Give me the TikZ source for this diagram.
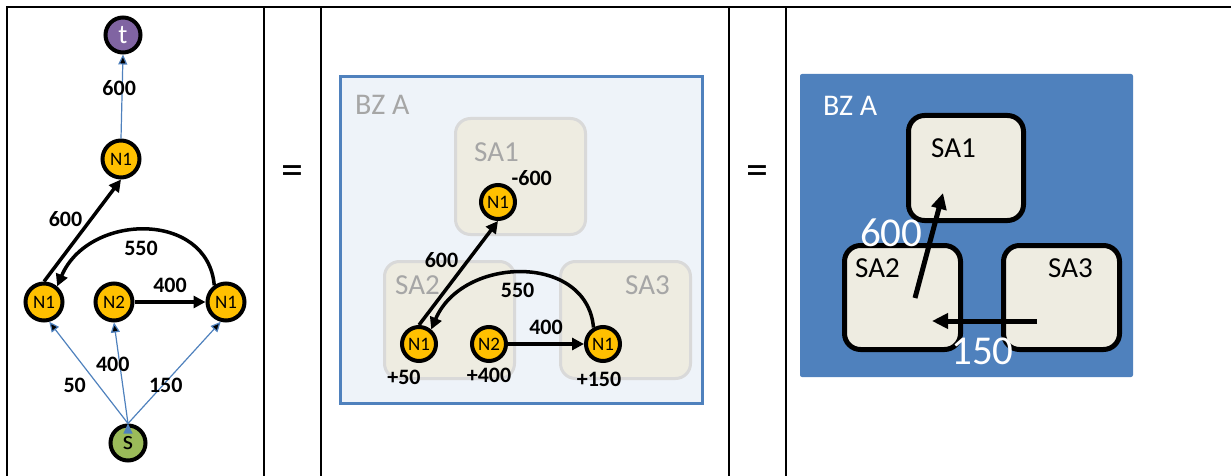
\documentclass[tikz,border=0pt]{standalone}
\usepackage{fontspec}
\setmainfont{Carlito}
\usetikzlibrary{arrows.meta,positioning,shapes.geometric}
\definecolor{nodeyellow}{HTML}{FFC000}
\definecolor{tpurple}{HTML}{8064A2}
\definecolor{sgreen}{HTML}{9BBB59}
\definecolor{flowblue}{HTML}{4F81BD}
\definecolor{areafill}{HTML}{EEECE1}
\definecolor{areagray}{HTML}{D9D9D9}
\definecolor{textgray}{HTML}{A6A6A6}
\definecolor{zonefill}{HTML}{EEF3F9}

\begin{document}
\begin{tikzpicture}[x=1pt, y=1pt,
    flow/.style={line width=3.5pt, -{Triangle[length=12pt,width=12pt]}},
    bigflow/.style={line width=5pt, -{Triangle[length=16pt,width=15pt]}},
    thinflow/.style={draw=flowblue, line width=1.2pt, -{Triangle[length=10pt,width=9pt]}},
    netnode/.style={circle, draw, line width=4pt, fill=nodeyellow, inner sep=0pt,
      minimum size=37pt, font=\fontsize{19}{22}\selectfont},
    endnode/.style={netnode, minimum size=35pt, font=\fontsize{27}{29}\selectfont},
    lbl/.style={font=\fontsize{22}{24}\selectfont\bfseries, inner sep=1pt},
    numtxt/.style={font=\fontsize{41}{44}\selectfont, text=white, inner sep=1pt},
    eqsign/.style={font=\fontsize{44}{48}\selectfont, inner sep=0pt},
    zone/.style={draw=flowblue, line width=3pt, fill=zonefill},
    area/.style={draw=areagray, line width=3pt, fill=areafill, rounded corners=15pt},
    block/.style={draw, line width=5pt, fill=areafill, rounded corners=16pt},
    areatxt/.style={inner sep=0pt, font=\fontsize{29}{32}\selectfont},
    zonetxt/.style={inner sep=0pt, font=\fontsize{30}{32}\selectfont}]
  \useasboundingbox (0,0) rectangle (1231,-476);

  \draw[line width=2.2pt] (7,-476) -- (7,-7) -- (1231,-7);
  \foreach \x in {264,321,729,786}
    \draw[line width=2.2pt] (\x,-7) -- (\x,-476);

  \node[endnode, fill=tpurple, text=white] (t) at (123,-35) {t};
  \node[netnode] (n1t) at (121,-159) {N1};
  \node[netnode] (n1a) at (44,-302) {N1};
  \node[netnode] (n2)  at (114,-302) {N2};
  \node[netnode] (n1c) at (226,-302) {N1};
  \node[endnode, fill=sgreen] (s) at (128,-443) {s};
  \path[thinflow] (n1t.north) edge node[lbl, pos=.6, xshift=-3pt] {600} (t.south)
                  (s.north) edge node[lbl, pos=.375, left=11pt] {50} (n1a.-75)
                            edge node[lbl, pos=.59, xshift=-7pt] {400} (n2.south)
                            edge node[lbl, pos=.375, xshift=3pt] {150} (n1c.-105);
  \path[flow] (n1a.north) edge node[lbl, pos=.61, left=6pt] {600} (n1t.south)
              (n2) edge node[lbl, above=7pt] {400} (n1c);
  \draw[flow] (n1c.125) .. controls +(95:75) and +(67:80) ..
    node[lbl, below=8pt, xshift=-4pt] {550} (n1a.50);

  \node[eqsign] (eq1) at (292,-175) {=};
  \node[eqsign] (eq2) at (757,-175) {=};

  \node[zone, minimum width=362pt, minimum height=327pt] (bzm) at (521.5,-240) {};
  \node[zonetxt, text=textgray, below right=20pt and 16pt of bzm.north west] {BZ A};
  \node[area, minimum width=130pt, minimum height=116pt] (sa1m) at (520.5,-176.5) {};
  \node[area, minimum width=130pt, minimum height=117pt] (sa2m) at (449.5,-320) {};
  \node[area, minimum width=130pt, minimum height=117pt] (sa3m) at (625.5,-320) {};
  \node[areatxt, text=textgray, below right=25pt and 20pt of sa1m.north west] {SA1};
  \node[areatxt, text=textgray, below right=15pt and 12pt of sa2m.north west] {SA2};
  \node[areatxt, text=textgray, below right=15pt and 66pt of sa3m.north west] {SA3};
  \node[netnode, minimum size=34pt] (m1a) at (498,-202) {N1};
  \node[netnode, minimum size=34pt] (m1b) at (419,-344) {N1};
  \node[netnode, minimum size=34pt] (m2)  at (489,-344) {N2};
  \node[netnode, minimum size=34pt] (m1c) at (603,-344) {N1};
  \node[lbl, above right=2pt and -1pt of m1a] {-600};
  \node[lbl, below=6pt of m1b, xshift=-15pt] {+50};
  \node[lbl, below=4pt of m2] {+400};
  \node[lbl, below=8pt of m1c, xshift=-4pt] {+150};
  \path[flow] (m1b.north) edge node[lbl, pos=.62, left=7pt] {600} (m1a.south)
              (m2) edge node[lbl, above=7pt] {400} (m1c);
  \draw[flow] (m1c.120) .. controls +(95:75) and +(67:80) ..
    node[lbl, below=7pt, xshift=-4pt] {550} (m1b.50);

  \node[fill=flowblue, rounded corners=2pt, minimum width=333pt, minimum height=303pt] (bzr) at (966.5,-225.5) {};
  \node[zonetxt, text=white, below right=22pt and 23pt of bzr.north west] {BZ A};
  \node[block, minimum width=115pt, minimum height=105pt] (sa1r) at (966,-168) {};
  \node[block, minimum width=116pt, minimum height=104pt] (sa2r) at (902.5,-297.5) {};
  \node[block, minimum width=116pt, minimum height=104pt] (sa3r) at (1061.5,-297.5) {};
  \node[areatxt, below right=25pt and 25pt of sa1r.north west] {SA1};
  \node[areatxt, below right=15pt and 13pt of sa2r.north west] {SA2};
  \node[areatxt, below right=15pt and 47pt of sa3r.north west] {SA3};
  \coordinate (a600s) at (915,-298);
  \coordinate (a600e) at (943,-193);
  \coordinate (a150s) at (1037,-321);
  \coordinate (a150e) at (932,-321);
  \path[bigflow] (a600s) edge node[numtxt, pos=.62, xshift=-41pt] {600} (a600e)
                 (a150s) edge node[numtxt, pos=.52, below=13pt] {150} (a150e);
\end{tikzpicture}
\end{document}
